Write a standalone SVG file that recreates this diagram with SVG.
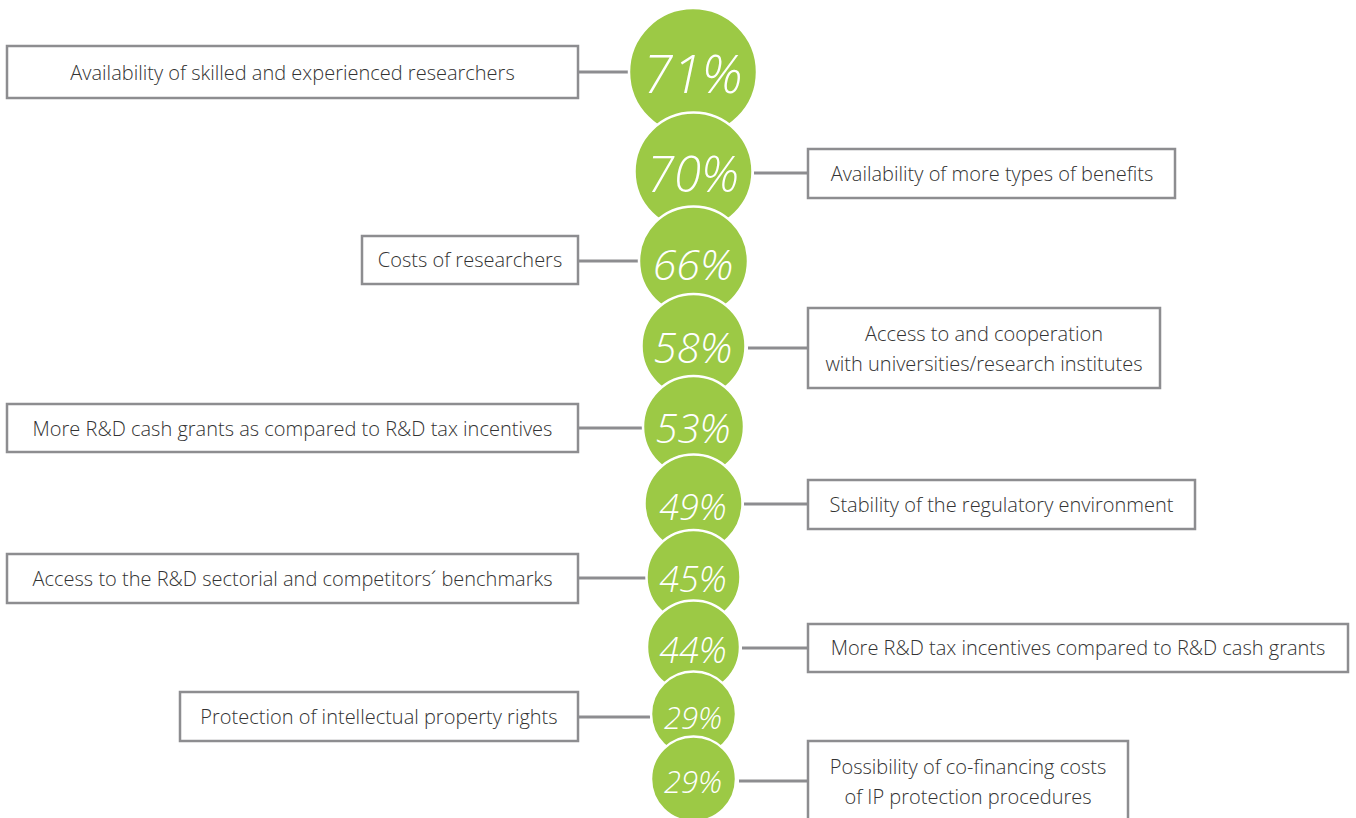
<svg xmlns="http://www.w3.org/2000/svg" width="1356" height="818" viewBox="0 0 1356 818">
<style>
.box{fill:#ffffff;stroke:#8d8d90;stroke-width:2.5}
.lbl{font-family:"Open Sans","Liberation Sans",sans-serif;font-weight:300;font-size:20px;fill:#333333;text-anchor:middle}
.con{stroke:#8d8d90;stroke-width:3;fill:none}
.bub{fill:#9cc945;stroke:#ffffff;stroke-width:2.5}
.pct{font-family:"Open Sans","Liberation Sans",sans-serif;font-weight:300;font-style:italic;fill:#ffffff;text-anchor:middle}
</style>
<rect width="1356" height="818" fill="#ffffff"/>
<g id="connectors">
<line class="con" x1="578" y1="72" x2="630" y2="72"/>
<line class="con" x1="754" y1="173" x2="808" y2="173"/>
<line class="con" x1="578" y1="261" x2="640" y2="261"/>
<line class="con" x1="748" y1="348" x2="808" y2="348"/>
<line class="con" x1="578" y1="428" x2="643" y2="428"/>
<line class="con" x1="744" y1="504" x2="808" y2="504"/>
<line class="con" x1="578" y1="578" x2="646" y2="578"/>
<line class="con" x1="742" y1="648" x2="808" y2="648"/>
<line class="con" x1="578" y1="717" x2="650" y2="717"/>
<line class="con" x1="739" y1="781" x2="808" y2="781"/>
</g>
<g id="n1"><rect class="box" x="7" y="46" width="571" height="52"/><text class="lbl" x="292.5" y="80">Availability of skilled and experienced researchers</text></g>
<g id="n2"><rect class="box" x="808" y="149" width="367" height="49"/><text class="lbl" x="992" y="181">Availability of more types of benefits</text></g>
<g id="n3"><rect class="box" x="362" y="236" width="216" height="48"/><text class="lbl" x="470" y="267">Costs of researchers</text></g>
<g id="n4"><rect class="box" x="808" y="308" width="352" height="80"/><text class="lbl" x="984" y="341">Access to and cooperation</text><text class="lbl" x="984" y="371">with universities/research institutes</text></g>
<g id="n5"><rect class="box" x="7" y="404" width="571" height="48"/><text class="lbl" x="292.5" y="436">More R&amp;D cash grants as compared to R&amp;D tax incentives</text></g>
<g id="n6"><rect class="box" x="808" y="480" width="387" height="49"/><text class="lbl" x="1001.5" y="512">Stability of the regulatory environment</text></g>
<g id="n7"><rect class="box" x="7" y="554" width="571" height="49"/><text class="lbl" x="292.5" y="586">Access to the R&amp;D sectorial and competitors´ benchmarks</text></g>
<g id="n8"><rect class="box" x="808" y="624" width="540" height="48"/><text class="lbl" x="1078" y="655">More R&amp;D tax incentives compared to R&amp;D cash grants</text></g>
<g id="n9"><rect class="box" x="180" y="692" width="398" height="49"/><text class="lbl" x="379" y="724">Protection of intellectual property rights</text></g>
<g id="n10"><rect class="box" x="808" y="741" width="320" height="90"/><text class="lbl" x="968" y="774">Possibility of co-financing costs</text><text class="lbl" x="968" y="804">of IP protection procedures</text></g>
<g id="c1"><circle class="bub" cx="693" cy="72" r="64"/><text class="pct" x="693" y="93" font-size="53">71%</text></g>
<g id="c2"><circle class="bub" cx="693.5" cy="171.5" r="59"/><text class="pct" x="693" y="192" font-size="49">70%</text></g>
<g id="c3"><circle class="bub" cx="693.5" cy="261" r="54.5"/><text class="pct" x="693" y="280" font-size="43">66%</text></g>
<g id="c4"><circle class="bub" cx="693.5" cy="346" r="52"/><text class="pct" x="693" y="363" font-size="42">58%</text></g>
<g id="c5"><circle class="bub" cx="693.5" cy="426.5" r="50.5"/><text class="pct" x="693" y="443" font-size="40">53%</text></g>
<g id="c6"><circle class="bub" cx="693.5" cy="503.5" r="49"/><text class="pct" x="693" y="520" font-size="36">49%</text></g>
<g id="c7"><circle class="bub" cx="693.5" cy="577" r="47"/><text class="pct" x="693" y="592" font-size="36">45%</text></g>
<g id="c8"><circle class="bub" cx="693.5" cy="647" r="46.5"/><text class="pct" x="693" y="663" font-size="36">44%</text></g>
<g id="c9"><circle class="bub" cx="693.5" cy="714" r="42.5"/><text class="pct" x="693" y="729" font-size="31">29%</text></g>
<g id="c10"><circle class="bub" cx="693.5" cy="779" r="42.5"/><text class="pct" x="693" y="793" font-size="31">29%</text></g>
</svg>
